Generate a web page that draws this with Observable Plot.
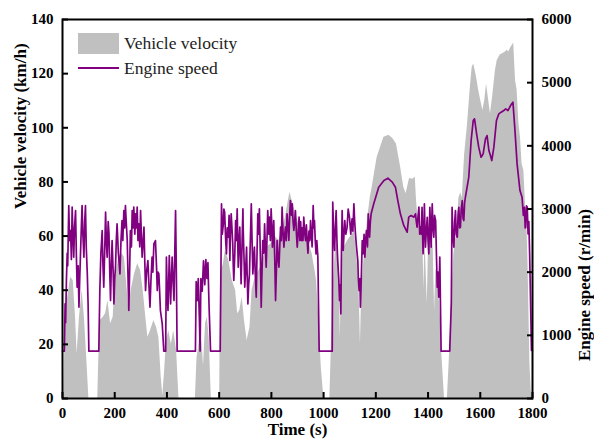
<!DOCTYPE html>
<html><head><meta charset="utf-8">
<script src="https://cdn.jsdelivr.net/npm/d3@7"></script>
<script src="https://cdn.jsdelivr.net/npm/@observablehq/plot@0.6"></script>
<style>
body{margin:0;background:#fff;}
#wrap{position:relative;width:594px;height:443px;font-family:"Liberation Serif","Times New Roman",serif;}
#wrap svg{position:absolute;left:0;top:0;}
.sw{position:absolute;}
.lt{position:absolute;font-size:17.5px;color:#222;line-height:20px;white-space:nowrap;}
</style></head><body><div id="wrap"></div>
<script>
// Vehicle velocity (km/h), [time s, speed] per phase
const velocityLow = [[0,0],[5,0],[10,25],[18,36],[31,44.8],[41,43.6],[50,30],[56,16.5],[65,30],[75,40],[84,30],[94,12.8],[101,0],[135,0],[139,15],[145,28.8],[156,30],[165,31.3],[174,36.2],[184,27.6],[194,30],[203,44.8],[216,52.2],[228,53.5],[237,52.2],[248,40],[254,32.5],[263,40],[276,46],[288,49.8],[299,47.3],[309,40],[319,30],[327,22.6],[337,25],[350,28.8],[360,26.3],[369,22.6],[378,8],[384,1],[391,10],[398,21.3],[407,25],[417,20],[426,25],[437,17.7],[446,0],[509,0],[515,15],[520,18],[528,25],[535,20],[540,12],[548,28],[555,30],[562,22],[570,0]];
const velocityMedium = [[602,0],[605,46],[616,49.7],[624,54.7],[637,51],[650,43.6],[663,40],[671,31.3],[679,32.5],[688,37.4],[697,28.8],[707,21.4],[718,26.3],[726,40],[735,43.6],[746,46],[758,48.6],[771,52.3],[784,56],[799,57.2],[816,59.7],[829,58.4],[841,62],[854,67],[863,72],[871,76.2],[880,73],[893,68.2],[905,64.5],[918,62],[931,59.7],[944,57.2],[956,53.5],[962,50],[965,48.6],[973,43.6],[982,28.8],[991,11.6],[1001,0]];
const velocityHigh = [[1024,0],[1029,17],[1036,40],[1045,55],[1055,58],[1060,45],[1064,22],[1068,45],[1075,55],[1090,58],[1105,60],[1118,62],[1128,52],[1136,40],[1141,20],[1146,40],[1155,52],[1167,65],[1179,74.4],[1186,78],[1205,89],[1231,96.5],[1250,97.2],[1265,96],[1279,94],[1295,85.4],[1307,78],[1316,75.6],[1329,81.3],[1342,81],[1351,81.8],[1356,73],[1362,66],[1372,63],[1380,60],[1384,40],[1388,60],[1397,35],[1402,58],[1412,62],[1420,55],[1425,32],[1430,48],[1440,42],[1447,30],[1452,17.7],[1463,0]];
const velocityExtraHigh = [[1474,0],[1483,17.7],[1490,37],[1499,53.5],[1510,62],[1518,74],[1525,76],[1531,74],[1540,90],[1550,100],[1562,115],[1569,122.4],[1575,123.6],[1585,119],[1594,113.8],[1602,110],[1610,106.4],[1617,110],[1624,116.2],[1631,111],[1639,105.2],[1648,112],[1658,121.2],[1665,124.9],[1677,127],[1684,127.3],[1696,128],[1703,128.6],[1709,128],[1716,129.5],[1722,130.4],[1728,131.3],[1735,117.5],[1741,114],[1748,101.5],[1754,96.5],[1760,86.7],[1767,84],[1773,72],[1778,66],[1783,50],[1790,13],[1795,3],[1800,0]];

// Engine speed (r/min), [time s, rpm] per phase
const engineLow = [[0,750],[7,750],[10,1500],[12,1200],[15,1868],[18,2300],[20,2100],[24,3055],[27,2500],[31,2660],[34,2200],[37,3030],[40,2600],[43,2237],[46,2700],[50,2976],[53,2300],[56,1762],[60,2100],[63,1446],[66,1900],[69,2290],[72,2700],[75,3055],[78,2600],[82,2237],[85,2800],[88,3055],[91,2400],[95,1973],[98,1500],[101,750],[139,750],[143,1709],[147,2300],[152,2660],[155,2100],[158,1762],[162,2400],[165,2950],[168,2500],[171,2237],[175,2800],[178,2607],[181,2000],[184,1551],[187,2100],[190,2501],[194,2000],[197,1498],[200,1900],[203,2079],[206,2500],[209,2765],[214,2300],[220,1973],[224,2500],[228,2818],[231,2500],[235,2976],[238,2700],[241,3055],[244,2800],[248,2501],[251,1900],[254,1393],[257,2000],[260,2660],[264,2400],[267,2976],[270,2700],[273,3030],[277,2600],[280,2924],[283,2700],[286,3030],[289,2500],[292,2765],[296,2400],[299,2976],[302,2600],[305,2237],[309,2500],[312,2713],[315,2200],[318,1709],[322,2000],[327,2185],[331,1800],[335,1446],[339,1900],[343,2237],[346,2000],[350,2449],[356,2501],[360,2100],[363,1709],[366,2000],[369,1973],[372,1700],[375,1393],[382,1182],[388,750],[395,750],[398,2237],[401,1700],[404,1393],[407,1900],[409,2264],[412,1800],[414,1498],[417,1900],[420,2237],[424,1800],[427,1551],[430,2300],[433,2976],[436,2000],[439,750],[509,750],[512,1850],[516,1550],[520,1900],[524,1300],[527,750],[530,1900],[535,1700],[540,2180],[545,1800],[549,2200],[553,1900],[557,2150],[561,1500],[567,750]];
const engineMedium = [[604,750],[609,3082],[612,2600],[616,2765],[618,3000],[621,2950],[625,2500],[628,2290],[631,2700],[635,2554],[638,2900],[641,2185],[643,2600],[646,2923],[649,2700],[652,2448],[654,2100],[656,1868],[660,2300],[663,2818],[666,2500],[669,3003],[671,2500],[673,2079],[676,2500],[679,2713],[681,2300],[684,1815],[688,2500],[691,3003],[692,2700],[694,2395],[696,2100],[698,1762],[702,2100],[705,2395],[707,2000],[710,1498],[713,1800],[716,1973],[720,2600],[723,3082],[726,2500],[729,1973],[732,2200],[735,2395],[738,2000],[742,1604],[745,2300],[748,2923],[751,2600],[754,3003],[758,2200],[761,1446],[764,2000],[767,2501],[771,2300],[774,2765],[777,2400],[780,2079],[783,2500],[786,2976],[790,2600],[793,2870],[796,2500],[799,3003],[802,2700],[804,2395],[807,2600],[809,2818],[813,2200],[816,1551],[819,2000],[822,2501],[826,2200],[829,2079],[832,2400],[835,2712],[838,2500],[841,3029],[845,2600],[848,2395],[851,2600],[854,2712],[857,2500],[860,2923],[864,2700],[867,2501],[870,2900],[873,3134],[877,2900],[880,3082],[883,2800],[886,2660],[889,2800],[892,2976],[896,2600],[899,2395],[902,2600],[906,2870],[909,2500],[912,2800],[915,2500],[918,2700],[921,2500],[924,2870],[928,2600],[931,2500],[934,2750],[937,2500],[940,2300],[944,2650],[947,2500],[950,2818],[953,2600],[956,2400],[958,2700],[960,3055],[963,2700],[965,2818],[968,2500],[971,2290],[974,2500],[978,2237],[983,750]];
const engineHigh = [[1033,750],[1035,3108],[1038,2700],[1042,2343],[1045,2700],[1048,2976],[1051,2500],[1054,2185],[1058,1900],[1061,1551],[1063,1800],[1066,1340],[1068,2200],[1071,2976],[1073,2600],[1075,2343],[1078,2600],[1081,2818],[1085,2600],[1090,2713],[1094,3000],[1099,2871],[1104,2600],[1109,2844],[1112,2650],[1116,3082],[1119,2800],[1122,2607],[1126,2400],[1131,2185],[1133,1900],[1136,1709],[1139,1900],[1141,1446],[1143,1700],[1145,2026],[1148,2500],[1151,2290],[1155,2600],[1158,2237],[1161,2500],[1164,2660],[1168,2400],[1171,2924],[1174,2700],[1176,2554],[1179,2800],[1182,2924],[1192,3082],[1211,3345],[1231,3451],[1246,3488],[1263,3425],[1275,3345],[1284,3135],[1294,2924],[1307,2739],[1320,2634],[1326,2871],[1335,2897],[1346,2871],[1352,2924],[1355,2800],[1358,2713],[1362,2900],[1365,3029],[1368,2600],[1371,2712],[1374,2600],[1377,3028],[1379,2600],[1381,2290],[1384,2700],[1386,3081],[1388,2700],[1390,2395],[1394,2700],[1397,2869],[1400,2500],[1403,2290],[1405,2700],[1407,3028],[1410,2600],[1412,2395],[1414,2800],[1416,3081],[1419,2700],[1422,2553],[1425,2900],[1429,2817],[1432,2300],[1435,1762],[1438,2000],[1441,1604],[1445,2237],[1450,750]];
const engineExtraHigh = [[1483,750],[1489,1498],[1492,3028],[1495,2600],[1499,2395],[1502,2800],[1505,2975],[1508,2600],[1512,2553],[1515,2900],[1518,3028],[1521,2700],[1524,2712],[1527,3000],[1531,3134],[1534,2850],[1537,2817],[1540,3100],[1543,3186],[1556,3503],[1565,4084],[1573,4401],[1578,4427],[1586,4190],[1594,3979],[1603,3820],[1611,3873],[1620,4110],[1626,4163],[1633,3926],[1639,3846],[1644,3767],[1652,3979],[1662,4401],[1671,4506],[1680,4533],[1690,4559],[1697,4585],[1706,4559],[1716,4638],[1725,4691],[1732,4295],[1741,3714],[1752,3292],[1760,3186],[1765,2900],[1769,3028],[1772,2700],[1774,2712],[1777,3050],[1780,3028],[1783,2606],[1786,2800],[1789,2290],[1792,1656],[1796,760],[1800,760]];

const xTicks = [0,200,400,600,800,1000,1200,1400,1600,1800];
const yLeftTicks = [0,20,40,60,80,100,120,140];
const yRightTicks = [0,1000,2000,3000,4000,5000,6000];
const kmhMax = 140, rpmMax = 6000;
const toLeft = r => r * kmhMax / rpmMax;

const vel = [...velocityLow, ...velocityMedium, ...velocityHigh, ...velocityExtraHigh].map(([t, v]) => ({t, v}));
const eng = [...engineLow, ...engineMedium, ...engineHigh, ...engineExtraHigh].map(([t, r]) => ({t, y: toLeft(r)}));

const serif = '"Liberation Serif", "Times New Roman", serif';
const chart = Plot.plot({
  width: 594, height: 443,
  marginLeft: 62, marginRight: 62, marginTop: 19, marginBottom: 45,
  style: {fontFamily: serif, fontSize: "15px", fontWeight: "bold", color: "#000", background: "transparent"},
  x: {domain: [0, 1800]},
  y: {domain: [0, 140]},
  marks: [
    Plot.areaY(vel, {x: "t", y: "v", fill: "#c0c0c0"}),
    Plot.lineY(eng, {x: "t", y: "y", stroke: "#800080", strokeWidth: 1.7}),
    Plot.frame({stroke: "#000", strokeWidth: 2}),
    Plot.axisX(xTicks, {anchor: "bottom", tickSize: -6, tickPadding: 15, strokeWidth: 2, label: null,
      fontFamily: serif, fontWeight: "bold", tickFormat: d => String(d)}),
    Plot.axisY(yLeftTicks, {anchor: "left", tickSize: -6, tickPadding: 15, strokeWidth: 2, label: null,
      fontFamily: serif, fontWeight: "bold", tickFormat: d => String(d)}),
    Plot.axisY(yRightTicks.map(toLeft), {anchor: "right", tickSize: -6, tickPadding: 15, strokeWidth: 2, label: null,
      fontFamily: serif, fontWeight: "bold", tickFormat: d => String(Math.round(d * rpmMax / kmhMax))}),
    Plot.text(["Time (s)"], {text: d => d, frameAnchor: "bottom", dy: 36, fontSize: 17, fontWeight: "bold", fontFamily: serif}),
    Plot.text(["Vehicle velocity (km/h)"], {text: d => d, frameAnchor: "left", dx: -42, rotate: -90, fontSize: 17, fontWeight: "bold", fontFamily: serif}),
    Plot.text(["Engine speed (r/min)"], {text: d => d, frameAnchor: "right", dx: 52, rotate: -90, fontSize: 17, fontWeight: "bold", fontFamily: serif})
  ]
});
const wrap = document.getElementById("wrap");
wrap.appendChild(chart);

// legend
const legend = [
  {label: "Vehicle velocity", kind: "area", top: 33},
  {label: "Engine speed", kind: "line", top: 58}
];
legend.forEach(l => {
  const sw = document.createElement("div");
  sw.className = "sw";
  if (l.kind === "area") {
    Object.assign(sw.style, {left: "78px", top: l.top + "px", width: "41px", height: "21px", background: "#c0c0c0"});
  } else {
    Object.assign(sw.style, {left: "78px", top: (l.top + 9) + "px", width: "41px", height: "2px", background: "#800080"});
  }
  wrap.appendChild(sw);
  const tx = document.createElement("div");
  tx.className = "lt";
  tx.textContent = l.label;
  Object.assign(tx.style, {left: "124px", top: l.top + "px"});
  wrap.appendChild(tx);
});
</script></body></html>
